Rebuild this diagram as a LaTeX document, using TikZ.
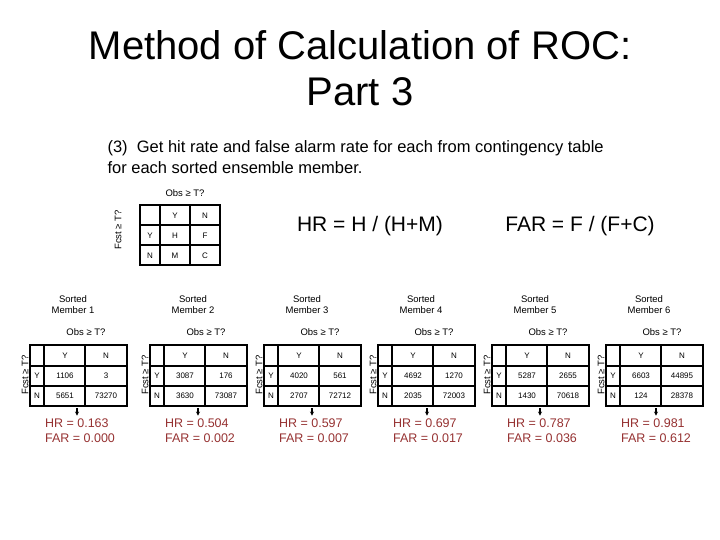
\documentclass[tikz,border=0pt]{standalone}
\usepackage{fontspec}
\usetikzlibrary{arrows.meta}
\setmainfont{Liberation Sans}
\definecolor{hrc}{RGB}{150,50,50}
\begin{document}
\begin{tikzpicture}[x=1pt,y=-1pt,
  cell/.style={font=\fontsize{8}{9}\selectfont},
  small/.style={font=\fontsize{9.5}{11}\selectfont},
  hr/.style={font=\fontsize{12.5}{15}\selectfont,text=hrc,align=left},
  tick/.style={line width=1.4pt,-{Stealth[length=4pt,width=4pt]}}]
\useasboundingbox (0,0) rectangle (720,540);
\node (t1) at (360,45) {\fontsize{40}{44}\selectfont Method of Calculation of ROC:};
\node (t2) at (360,92) {\fontsize{40}{44}\selectfont Part 3};
\node[anchor=west,align=left,font=\fontsize{16.5}{21}\selectfont] (sub) at (104,157) {(3)\ \ Get hit rate and false alarm rate for each from contingency table\\for each sorted ensemble member.};
% sample table
\draw[line width=1.6pt] (140,205) rectangle (220,265);
\foreach \y in {225,245} \draw[line width=1.2pt] (140,\y) -- (220,\y);
\foreach \x in {160,190} \draw[line width=1.2pt] (\x,205) -- (\x,265);
\node[small] (so) at (185,193) {Obs ≥ T?};
\node[small,rotate=90] (sf) at (118,230) {Fcst ≥ T?};
\node[cell] (sy) at (175,216) {Y}; \node[cell] (sn) at (205,216) {N};
\node[cell] (sry) at (150,236) {Y}; \node[cell] (sh) at (175,236) {H}; \node[cell] (sF) at (205,236) {F};
\node[cell] (srn) at (150,256) {N}; \node[cell] (sm) at (175,256) {M}; \node[cell] (sc) at (205,256) {C};
\node[font=\fontsize{21}{24}\selectfont] (hrf) at (370,226) {HR = H / (H+M)};
\node[font=\fontsize{21}{24}\selectfont] (farf) at (580,226) {FAR = F / (F+C)};
\foreach \k/\x/\a/\b/\c/\d/\h/\f/\tx in {
 1/30/1106/3/5651/73270/0.163/0.000/77,
 2/150/3087/176/3630/73087/0.504/0.002/198,
 3/264/4020/561/2707/72712/0.597/0.007/312,
 4/378/4692/1270/2035/72003/0.697/0.017/427,
 5/492/5287/2655/1430/70618/0.787/0.036/540,
 6/606/6603/44895/124/28378/0.981/0.612/656}{
  \draw[line width=1.6pt] (\x,345) rectangle ({\x+97},406);
  \foreach \y in {366,386} \draw[line width=1.2pt] (\x,\y) -- ({\x+97},\y);
  \foreach \dx in {14,55} \draw[line width=1.2pt] ({\x+\dx},345) -- ({\x+\dx},406);
  \node[small] (o\k) at ({\x+56},332) {Obs ≥ T?};
  \node[small,rotate=90] (f\k) at ({\x-5},375) {Fcst ≥ T?};
  \node[cell] (hy\k) at ({\x+35},356) {Y}; \node[cell] (hn\k) at ({\x+76},356) {N};
  \node[cell] (ry\k) at ({\x+7},376) {Y}; \node[cell] (a\k) at ({\x+35},376) {\a}; \node[cell] (b\k) at ({\x+76},376) {\b};
  \node[cell] (rn\k) at ({\x+7},396) {N}; \node[cell] (c\k) at ({\x+35},396) {\c}; \node[cell] (d\k) at ({\x+76},396) {\d};
  \node[small,align=center] (m\k) at ({\x+43},305) {Sorted\\Member \k};
  \node[hr] (r\k) at ({\x+50},431) {HR = \h\\FAR = \f};
  \coordinate (ta\k) at (\tx,408);
  \draw[tick] (ta\k) -- (ta\k |- r\k.north);
}
\end{tikzpicture}
\end{document}
